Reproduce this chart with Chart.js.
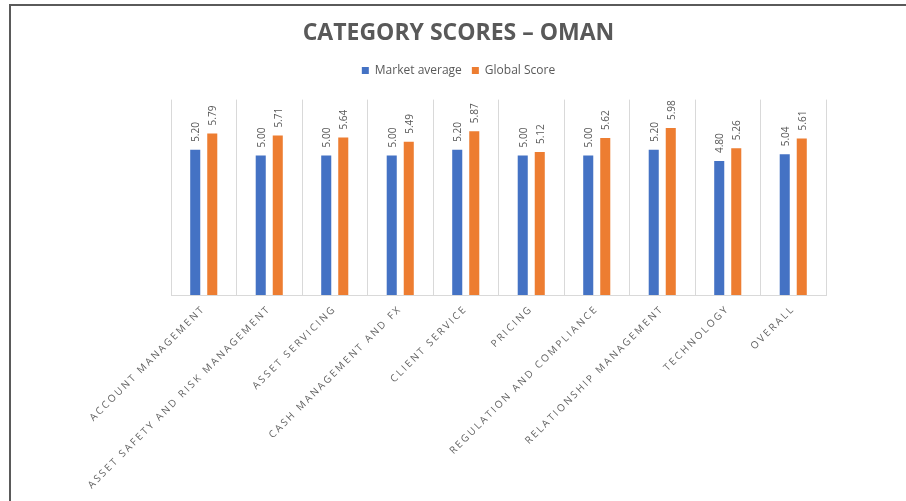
<!DOCTYPE html>
<html>
<head>
<meta charset="utf-8">
<script src="https://cdn.jsdelivr.net/npm/chart.js@4"></script>
<style>
  html, body { margin: 0; padding: 0; background: #fff; }
  #wrap { position: relative; width: 906px; height: 501px; overflow: hidden; }
  #frame {
    position: absolute; left: 9px; top: 4px; right: -5px; bottom: -5px;
    border-top: 2px solid #5a5a5a; border-left: 2px solid #5a5a5a;
    pointer-events: none;
  }
</style>
</head>
<body>
<div id="wrap">
  <canvas id="scoresChart" width="906" height="501"></canvas>
  <div id="frame"></div>
</div>
<script>
const categories = [
  "ACCOUNT MANAGEMENT",
  "ASSET SAFETY AND RISK MANAGEMENT",
  "ASSET SERVICING",
  "CASH MANAGEMENT AND FX",
  "CLIENT SERVICE",
  "PRICING",
  "REGULATION AND COMPLIANCE",
  "RELATIONSHIP MANAGEMENT",
  "TECHNOLOGY",
  "OVERALL",
];
const marketAverage = [5.2, 5.0, 5.0, 5.0, 5.2, 5.0, 5.0, 5.2, 4.8, 5.04];
const globalScore = [5.79, 5.71, 5.64, 5.49, 5.87, 5.12, 5.62, 5.98, 5.26, 5.61];

const FONT = "'Open Sans', 'DejaVu Sans', sans-serif";
const TEXT_GREY = "#595959";

// value labels written vertically above each bar
const barValueLabels = {
  id: "barValueLabels",
  afterDatasetsDraw(chart) {
    const ctx = chart.ctx;
    ctx.save();
    ctx.font = "10px " + FONT;
    ctx.fillStyle = TEXT_GREY;
    ctx.textAlign = "left";
    ctx.textBaseline = "middle";
    chart.data.datasets.forEach((ds, i) => {
      chart.getDatasetMeta(i).data.forEach((bar, j) => {
        ctx.save();
        ctx.translate(bar.x + 1, bar.y - 8);
        ctx.rotate(-Math.PI / 2);
        ctx.fillText(ds.data[j].toFixed(2), 0, 0);
        ctx.restore();
      });
    });
    ctx.restore();
  },
};

// spaced-out category labels like the original
const spacedTicks = {
  id: "spacedTicks",
  afterLayout(chart) {
    const scale = chart.scales.x;
    if (scale._spaced) return;
    const orig = scale.drawLabels;
    scale.drawLabels = function (area) {
      this.ctx.save();
      this.ctx.letterSpacing = "2.2px";
      orig.call(this, area);
      this.ctx.restore();
    };
    scale._spaced = true;
  },
};

// extra gap between legend and plot
const legendGap = {
  id: "legendGap",
  beforeInit(chart) {
    const fit = chart.legend.fit;
    chart.legend.fit = function () {
      fit.call(this);
      this.height += 13;
    };
  },
};

new Chart(document.getElementById("scoresChart"), {
  type: "bar",
  data: {
    labels: categories,
    datasets: [
      {
        label: "Market average",
        data: marketAverage,
        backgroundColor: "#4472C4",
        categoryPercentage: 0.52,
        barPercentage: 0.59,
      },
      {
        label: "Global Score",
        data: globalScore,
        backgroundColor: "#ED7D31",
        categoryPercentage: 0.52,
        barPercentage: 0.59,
      },
    ],
  },
  plugins: [barValueLabels, spacedTicks, legendGap],
  options: {
    responsive: false,
    animation: false,
    layout: {
      padding: { left: 91, right: 80, top: 14, bottom: 6 },
    },
    plugins: {
      title: {
        display: true,
        text: "CATEGORY SCORES \u2013 OMAN",
        color: TEXT_GREY,
        font: { family: FONT, size: 23, weight: "bold" },
        padding: { top: 6, bottom: 7 },
      },
      legend: {
        display: true,
        position: "top",
        labels: {
          color: TEXT_GREY,
          font: { family: FONT, size: 12 },
          boxWidth: 7,
          boxHeight: 7,
          padding: 10,
        },
      },
      tooltip: { enabled: false },
    },
    scales: {
      y: {
        display: true,
        min: 0,
        max: 7,
        ticks: { display: false },
        grid: { display: false },
        border: { display: false },
        afterFit(scale) {
          scale.width = 80;
        },
      },
      x: {
        offset: true,
        grid: {
          display: true,
          offset: true,
          color: "#D9D9D9",
          drawTicks: false,
        },
        border: { display: true, color: "#D9D9D9" },
        ticks: {
          color: "#626262",
          font: { family: FONT, size: 10 },
          minRotation: 45,
          maxRotation: 45,
          autoSkip: false,
          padding: 8,
        },
        afterFit(scale) {
          scale.height = 200;
        },
      },
    },
  },
});
</script>
</body>
</html>
